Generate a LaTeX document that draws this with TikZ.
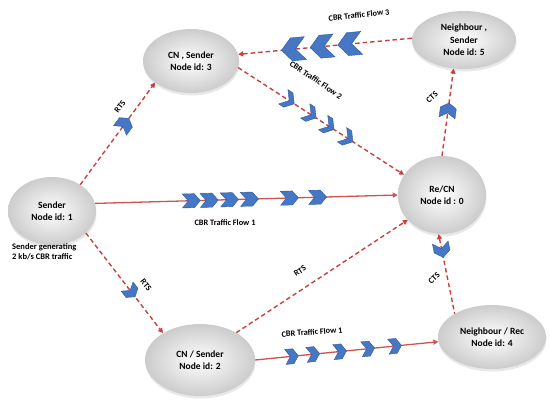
\documentclass[tikz,border=0pt]{standalone}
\usepackage{fontspec}
\setmainfont{Carlito}
\usetikzlibrary{shapes.geometric,arrows.meta,decorations.markings,shadows}
\definecolor{linered}{HTML}{C8413F}
\definecolor{chevblue}{HTML}{4677C4}
\definecolor{chevedge}{HTML}{2F5A9E}
\newcommand\chevpath[4]{\filldraw[chevstyle,#4] (-#1/2,-#2/2) -- (#1/2-#3,-#2/2) -- (#1/2,0) -- (#1/2-#3,#2/2) -- (-#1/2,#2/2) -- (-#1/2+#3,0) -- cycle;}
\tikzset{
  nd/.style={ellipse, inner sep=0pt, align=center,
    font=\fontsize{9.5}{12.5}\selectfont\bfseries,
    shading=radial, inner color=white, outer color=black!20,
    drop shadow={shadow xshift=0.5pt, shadow yshift=-2.5pt, opacity=0.18}},
  dsh/.style={draw=linered, line width=1.4pt, dash pattern=on 4.5pt off 3pt,
    arrows={-Triangle[length=5pt,width=5pt]}},
  dshrev/.style={draw=linered, line width=1.4pt, dash pattern=on 4.5pt off 3pt,
    arrows={Triangle[length=5pt,width=5pt]-}},
  sol/.style={draw=linered!90, line width=1.3pt,
    arrows={-Triangle[length=5pt,width=5pt]}},
  lbl/.style={font=\fontsize{8.3}{10}\selectfont\bfseries, inner sep=0pt},
  chevstyle/.style={fill=chevblue, draw=chevedge, line width=0.4pt, solid, arrows=-},
}
\begin{document}
\begin{tikzpicture}[x=1pt,y=-1pt]
\useasboundingbox (0,0) rectangle (550,402);

% nodes
\node[nd, minimum width=88pt, minimum height=68pt] (snd) at (52,211) {Sender\\Node id: 1};
\node[nd, minimum width=96pt, minimum height=64pt] (cn3) at (191,61) {CN , Sender\\Node id: 3};
\node[nd, minimum width=104pt, minimum height=58pt] (nb5) at (464,40) {Neighbour ,\\Sender\\Node id: 5};
\node[nd, minimum width=88pt, minimum height=78pt] (re) at (442,195) {Re/CN\\Node id : 0};
\node[nd, minimum width=110pt, minimum height=72pt] (cn2) at (200,360) {CN / Sender\\Node id: 2};
\node[nd, minimum width=108pt, minimum height=64pt] (nb4) at (492,337) {Neighbour / Rec\\Node id: 4};

\node[lbl, anchor=west, align=left, font=\fontsize{8.5}{10}\selectfont\bfseries] (sgen) at (12,252) {Sender generating\\2 kb/s CBR traffic};

% connectors
\draw[dsh, postaction={decorate}, decoration={markings,
  mark=at position 0.59 with {\chevpath{15}{16}{5}{}}}] (snd.43) -- (cn3.211);

\draw[dsh, postaction={decorate}, decoration={markings,
  mark=at position 0.305 with {\chevpath{13}{17}{7}{}},
  mark=at position 0.437 with {\chevpath{13}{17}{7}{}},
  mark=at position 0.545 with {\chevpath{13}{17}{7}{}},
  mark=at position 0.659 with {\chevpath{13}{17}{7}{}}}] (cn3.-8) -- (re.152.6);

\draw[dsh, postaction={decorate}, decoration={markings,
  mark=at position 0.358 with {\chevpath{24}{23}{10}{}},
  mark=at position 0.517 with {\chevpath{24}{23}{10}{}},
  mark=at position 0.682 with {\chevpath{24}{23}{10}{}}}] (nb5.178) -- (cn3.8);

\draw[dsh, postaction={decorate}, decoration={markings,
  mark=at position 0.52 with {\chevpath{15}{16}{5}{}}}] (re.90) -- (nb5.250);

\draw[sol, postaction={decorate}, decoration={markings,
  mark=at position 0.318 with {\chevpath{18}{14}{6}{}},
  mark=at position 0.377 with {\chevpath{18}{14}{6}{}},
  mark=at position 0.444 with {\chevpath{18}{14}{6}{}},
  mark=at position 0.510 with {\chevpath{18}{14}{6}{}},
  mark=at position 0.642 with {\chevpath{18}{14}{6}{}},
  mark=at position 0.735 with {\chevpath{18}{14}{6}{}}}] (snd.10) -- (re.180);

\draw[dsh, postaction={decorate}, decoration={markings,
  mark=at position 0.586 with {\chevpath{13}{15}{5}{}}}] (snd.-33.7) -- (cn2.144);

\draw[dsh] (cn2.37.6) -- (re.216.9);

\draw[dshrev, postaction={decorate}, decoration={markings,
  mark=at position 0.2 with {\chevpath{15}{16}{6}{}}}] (re.265) -- (nb4.148);

\draw[sol, postaction={decorate}, decoration={markings,
  mark=at position 0.2 with {\chevpath{13}{15}{5}{}},
  mark=at position 0.316 with {\chevpath{13}{15}{5}{}},
  mark=at position 0.463 with {\chevpath{13}{15}{5}{}},
  mark=at position 0.616 with {\chevpath{13}{15}{5}{}},
  mark=at position 0.763 with {\chevpath{13}{15}{5}{}}}] (cn2.0) -- (nb4.185);

% labels
\node[lbl, rotate=52] (lrts1) at (120,107) {RTS};
\node[lbl, rotate=-34] (lf2) at (316,80) {CBR Traffic Flow 2};
\node[lbl, rotate=6] (lf3) at (359,15) {CBR Traffic Flow 3};
\node[lbl, rotate=42] (lcts1) at (432,97) {CTS};
\node[lbl] (lf1a) at (225,223) {CBR Traffic Flow 1};
\node[lbl, rotate=-52] (lrts2) at (146,285) {RTS};
\node[lbl, rotate=33] (lrts3) at (300,271) {RTS};
\node[lbl, rotate=43] (lcts2) at (434,278) {CTS};
\node[lbl, rotate=4] (lf1b) at (312,332) {CBR Traffic Flow 1};
\end{tikzpicture}
\end{document}
